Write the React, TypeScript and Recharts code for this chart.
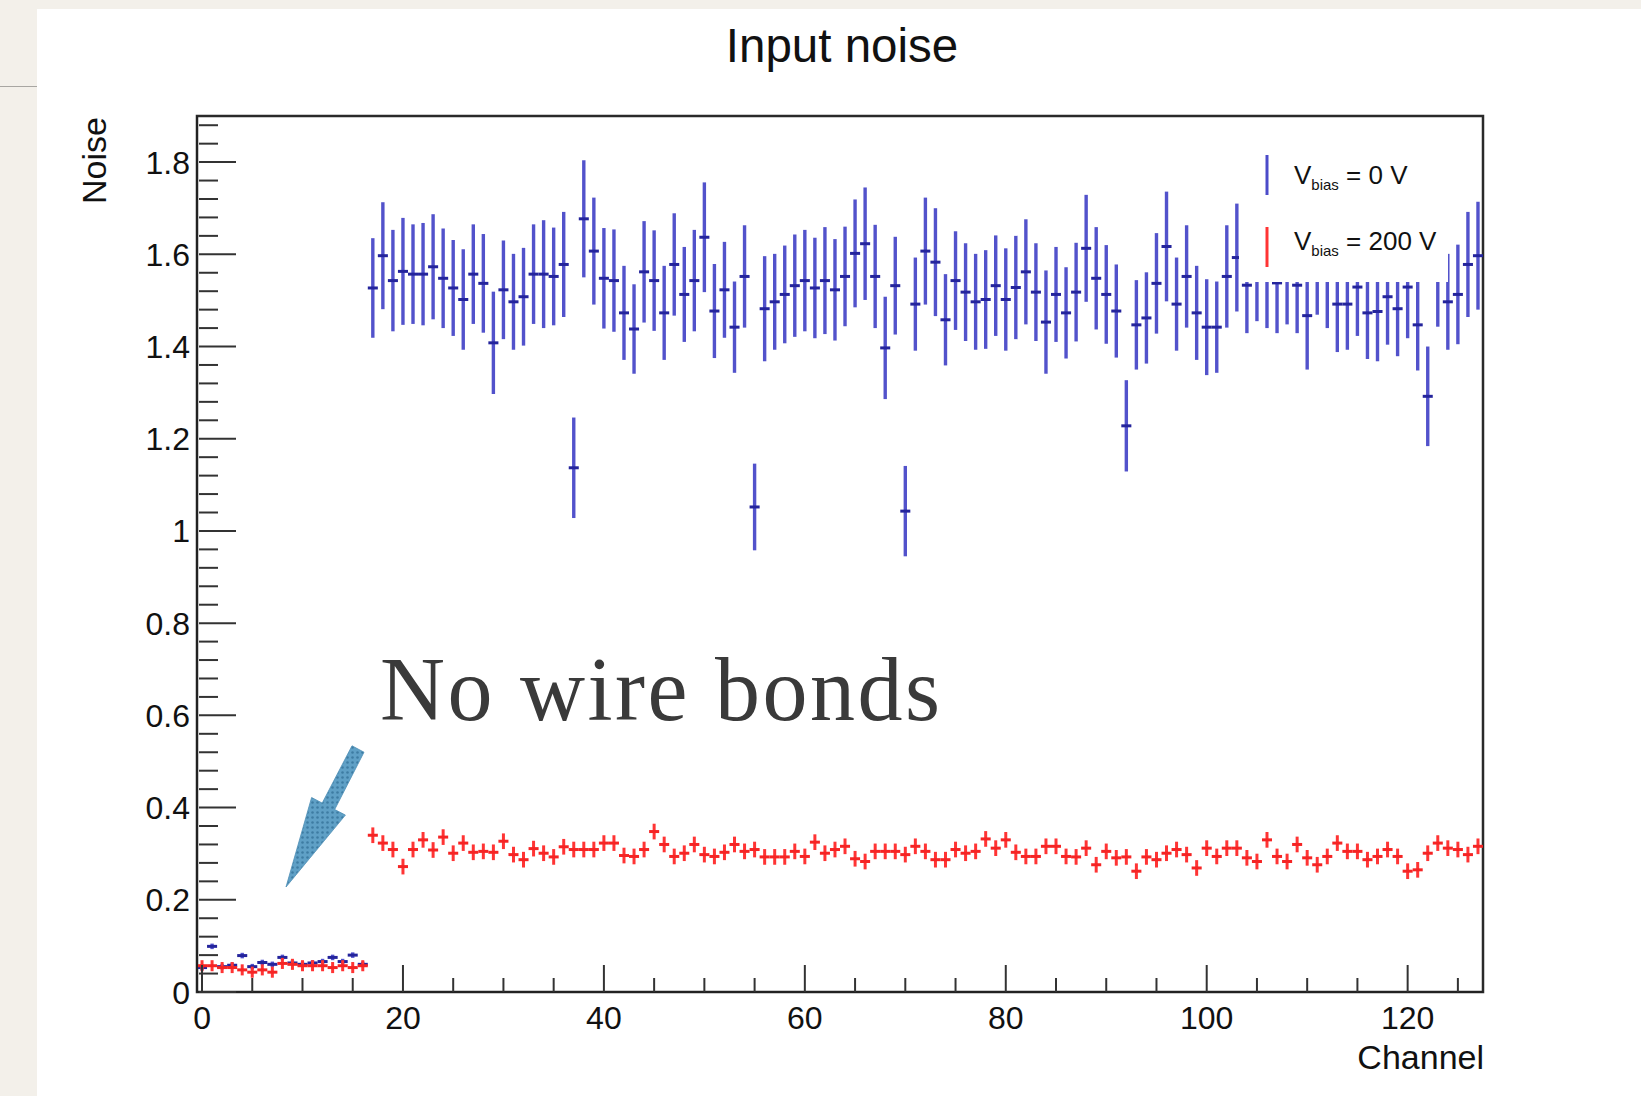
import { ScatterChart, Scatter, XAxis, YAxis, ErrorBar, ReferenceArea, Legend } from 'recharts';

const W = 1641;
const H = 1096;
const SANS = "'Liberation Sans', Arial, Helvetica, sans-serif";

// channels 0..16 have no wire bonds, 17..127 are bonded
const firstBonded = 17;

const blueUnbonded = [0.053, 0.099, 0.055, 0.058, 0.079, 0.055, 0.064, 0.06, 0.075, 0.063, 0.06, 0.063, 0.066, 0.075, 0.066, 0.08, 0.06];
const redUnbonded = [0.057, 0.057, 0.053, 0.053, 0.048, 0.043, 0.048, 0.043, 0.062, 0.06, 0.057, 0.057, 0.057, 0.053, 0.057, 0.053, 0.057];

const blueBonded = [
  1.527, 1.597, 1.543, 1.563, 1.557, 1.557, 1.573, 1.548, 1.527, 1.502,
  1.557, 1.537, 1.408, 1.523, 1.497, 1.508, 1.557, 1.557, 1.552, 1.578,
  1.137, 1.677, 1.607, 1.548, 1.543, 1.473, 1.438, 1.562, 1.543, 1.473,
  1.578, 1.513, 1.543, 1.637, 1.477, 1.523, 1.442, 1.552, 1.052, 1.482,
  1.497, 1.513, 1.532, 1.543, 1.527, 1.543, 1.523, 1.552, 1.602, 1.623,
  1.552, 1.397, 1.532, 1.043, 1.492, 1.607, 1.583, 1.458, 1.543, 1.518,
  1.497, 1.502, 1.532, 1.502, 1.528, 1.562, 1.518, 1.453, 1.513, 1.473,
  1.518, 1.613, 1.548, 1.513, 1.477, 1.228, 1.447, 1.462, 1.537, 1.617,
  1.492, 1.552, 1.473, 1.442, 1.442, 1.552, 1.593, 1.533, 1.56, 1.55,
  1.538, 1.555, 1.533, 1.467, 1.575, 1.548, 1.492, 1.492, 1.529, 1.473,
  1.476, 1.508, 1.482, 1.529, 1.447, 1.292, 1.55, 1.497, 1.513, 1.578,
  1.597,
];

const blueBondedErr = [
  0.108, 0.116, 0.11, 0.116, 0.108, 0.111, 0.114, 0.108, 0.104, 0.109,
  0.108, 0.107, 0.111, 0.107, 0.104, 0.106, 0.108, 0.117, 0.106, 0.114,
  0.109, 0.127, 0.116, 0.109, 0.111, 0.102, 0.097, 0.11, 0.109, 0.102,
  0.111, 0.103, 0.11, 0.119, 0.102, 0.104, 0.099, 0.111, 0.094, 0.114,
  0.104, 0.106, 0.111, 0.11, 0.109, 0.116, 0.11, 0.108, 0.117, 0.122,
  0.112, 0.111, 0.106, 0.098, 0.101, 0.116, 0.117, 0.099, 0.107, 0.106,
  0.104, 0.107, 0.109, 0.111, 0.112, 0.114, 0.106, 0.112, 0.103, 0.099,
  0.107, 0.116, 0.111, 0.107, 0.101, 0.099, 0.097, 0.099, 0.109, 0.119,
  0.101, 0.111, 0.102, 0.104, 0.099, 0.111, 0.117, 0.104, 0.105, 0.11,
  0.109, 0.107, 0.104, 0.117, 0.106, 0.108, 0.104, 0.099, 0.106, 0.1,
  0.108, 0.104, 0.103, 0.111, 0.099, 0.108, 0.107, 0.104, 0.108, 0.114,
  0.117,
];

const redBonded = [
  0.34, 0.323, 0.309, 0.272, 0.309, 0.33, 0.308, 0.336, 0.301, 0.323,
  0.303, 0.305, 0.303, 0.327, 0.298, 0.287, 0.311, 0.301, 0.293, 0.315,
  0.309, 0.309, 0.309, 0.323, 0.323, 0.296, 0.294, 0.309, 0.348, 0.32,
  0.294, 0.301, 0.32, 0.298, 0.294, 0.303, 0.32, 0.305, 0.309, 0.293,
  0.293, 0.293, 0.305, 0.294, 0.325, 0.301, 0.309, 0.316, 0.289, 0.283,
  0.305, 0.305, 0.305, 0.298, 0.316, 0.305, 0.287, 0.287, 0.309, 0.301,
  0.305, 0.332, 0.312, 0.33, 0.303, 0.294, 0.294, 0.316, 0.316, 0.294,
  0.293, 0.312, 0.276, 0.305, 0.291, 0.293, 0.262, 0.293, 0.287, 0.301,
  0.309, 0.298, 0.269, 0.312, 0.294, 0.312, 0.312, 0.291, 0.283, 0.33,
  0.294, 0.283, 0.32, 0.291, 0.276, 0.294, 0.323, 0.305, 0.305, 0.287,
  0.294, 0.309, 0.294, 0.262, 0.265, 0.301, 0.323, 0.312, 0.309, 0.298,
  0.316,
];

const blueUnbondedErr = 0.006;
const redUnbondedErr = 0.012;
const redBondedErr = 0.017;
const channelHalfWidth = 0.5;

const xDomain: [number, number] = [-0.5, 127.5];
const yDomain: [number, number] = [0, 1.9];
const xTicks = Array.from({ length: 26 }, (_, i) => i * 5);
const yTicks = Array.from({ length: 48 }, (_, i) => Math.round(i * 4) / 100);

const legendItems = [
  { label: '0 V', color: '#4b4bc9' },
  { label: '200 V', color: '#ff3434' },
];

const bluePoints = [
  ...blueUnbonded.map((y, i) => ({ x: i, y, ex: channelHalfWidth, ey: blueUnbondedErr })),
  ...blueBonded.map((y, i) => ({ x: firstBonded + i, y, ex: channelHalfWidth, ey: blueBondedErr[i] })),
];

const redPoints = [
  ...redUnbonded.map((y, i) => ({ x: i, y, ex: channelHalfWidth, ey: redUnbondedErr })),
  ...redBonded.map((y, i) => ({ x: firstBonded + i, y, ex: channelHalfWidth, ey: redBondedErr })),
];

const NoMarker = () => <g />;

const XTick = (props: any) => {
  const { x, y, payload } = props;
  const v = payload.value as number;
  const major = v % 20 === 0;
  const axisY = y - 14;
  return (
    <g>
      <line x1={x} x2={x} y1={axisY} y2={axisY - (major ? 27 : 14)} stroke="#333" strokeWidth={2} />
      {major && (
        <text x={x} y={y} dy="0.72em" textAnchor="middle" fontSize={32} fontFamily={SANS} fill="#111">
          {v}
        </text>
      )}
    </g>
  );
};

const YTick = (props: any) => {
  const { x, y, payload } = props;
  const v = payload.value as number;
  const major = Math.abs(v * 5 - Math.round(v * 5)) < 1e-6;
  const axisX = x + 9;
  return (
    <g>
      <line x1={axisX} x2={axisX + (major ? 37 : 19)} y1={y} y2={y} stroke="#333" strokeWidth={2} />
      {major && (
        <text x={x} y={y} dy="0.36em" textAnchor="end" fontSize={32} fontFamily={SANS} fill="#111">
          {String(Number(v.toFixed(1)))}
        </text>
      )}
    </g>
  );
};

const LegendBox = () => (
  <svg width={209} height={163} style={{ display: 'block', background: '#fff' }}>
    {legendItems.map((item, i) => (
      <g key={item.label}>
        <line x1={28} x2={28} y1={36 + i * 72} y2={76 + i * 72} stroke={item.color} strokeWidth={3} />
        <text x={55} y={65 + i * 66} fontSize={26} fontFamily={SANS} fill="#111">
          V
          <tspan fontSize={15} dy={6}>bias</tspan>
          <tspan dy={-6}>{` = ${item.label}`}</tspan>
        </text>
      </g>
    ))}
  </svg>
);

export default function App() {
  return (
    <div style={{ position: 'absolute', left: 0, top: 0, width: W, height: H, background: '#f3f0ea', overflow: 'hidden' }}>
      <div style={{ position: 'absolute', left: 0, top: 86, width: 37, height: 1, background: '#a8a6a2' }} />
      <div style={{ position: 'absolute', left: 37, top: 9, right: 0, bottom: 0, background: '#fff' }} />
      <div style={{ position: 'absolute', left: 0, top: 0 }}>
        <ScatterChart width={W} height={H} margin={{ top: 116, right: 158, bottom: 24, left: 47 }}>
          <XAxis
            type="number"
            dataKey="x"
            domain={xDomain}
            ticks={xTicks}
            interval={0}
            tickSize={0}
            tickMargin={14}
            tickLine={false}
            tick={(p: any) => <XTick {...p} />}
            axisLine={{ stroke: '#222', strokeWidth: 2 }}
            height={80}
            allowDataOverflow
          />
          <YAxis
            type="number"
            dataKey="y"
            domain={yDomain}
            ticks={yTicks}
            interval={0}
            tickSize={0}
            tickMargin={7}
            tickLine={false}
            tick={(p: any) => <YTick {...p} />}
            axisLine={{ stroke: '#222', strokeWidth: 2 }}
            width={150}
            allowDataOverflow
          />
          <ReferenceArea x1={xDomain[0]} x2={xDomain[1]} y1={yDomain[0]} y2={yDomain[1]} fill="none" stroke="#2a2a2a" strokeWidth={2.5} ifOverflow="visible" />
          <Scatter data={bluePoints} shape={NoMarker} isAnimationActive={false} name="0 V">
            <ErrorBar dataKey="ey" direction="y" width={0} stroke="#5252cb" strokeWidth={3.4} isAnimationActive={false} />
            <ErrorBar dataKey="ex" direction="x" width={0} stroke="#24249c" strokeWidth={3} isAnimationActive={false} />
          </Scatter>
          <Scatter data={redPoints} shape={NoMarker} isAnimationActive={false} name="200 V">
            <ErrorBar dataKey="ey" direction="y" width={0} stroke="#ff3434" strokeWidth={3} isAnimationActive={false} />
            <ErrorBar dataKey="ex" direction="x" width={0} stroke="#f52424" strokeWidth={3} isAnimationActive={false} />
          </Scatter>
          <Legend
            layout="horizontal"
            verticalAlign="middle"
            align="center"
            content={() => <LegendBox />}
            wrapperStyle={{ left: 1239, top: 119, width: 209, height: 163, background: '#fff' }}
          />
        </ScatterChart>
      </div>
      <svg width={W} height={H} style={{ position: 'absolute', left: 0, top: 0, pointerEvents: 'none' }}>
        <defs>
          <pattern id="dots" width={5} height={5} patternUnits="userSpaceOnUse">
            <rect width={5} height={5} fill="#5fa0c6" />
            <circle cx={2.5} cy={2.5} r={1.3} fill="#3d7ca3" />
          </pattern>
        </defs>
        <text x={842} y={62} textAnchor="middle" fontSize={47.5} fontFamily={SANS} fill="#111">
          Input noise
        </text>
        <text transform="translate(106,117) rotate(-90)" textAnchor="end" fontSize={34} fontFamily={SANS} fill="#111">
          Noise
        </text>
        <text x={1484} y={1069} textAnchor="end" fontSize={34} fontFamily={SANS} fill="#111">
          Channel
        </text>
        <text x={380} y={720} fontSize={90} letterSpacing={2.5} fontFamily="'Liberation Serif', 'DejaVu Serif', serif" fill="#3a3a3a">
          No wire bonds
        </text>
        <polygon
          points="352,745.8 364,752.2 334.7,809.5 345.4,815.1 286,887 311.6,797.5 322.2,803.1"
          fill="url(#dots)"
          stroke="#4f8fb6"
          strokeWidth={0.8}
        />
      </svg>
    </div>
  );
}
